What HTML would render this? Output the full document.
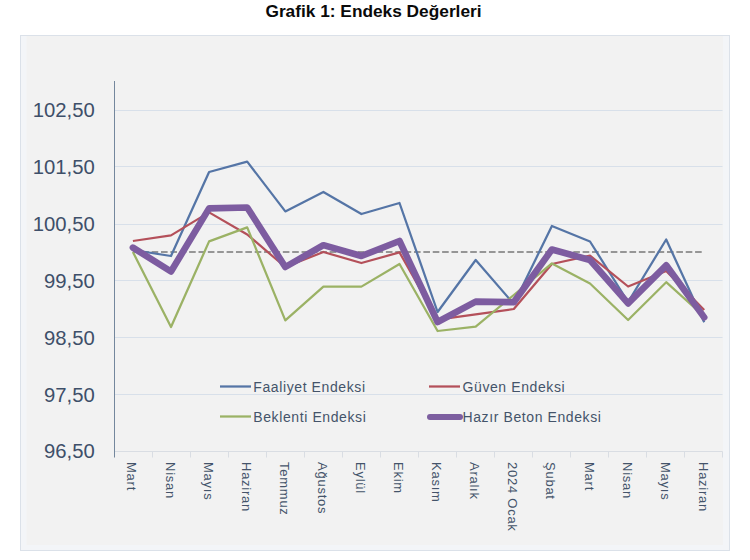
<!DOCTYPE html>
<html><head><meta charset="utf-8"><style>
html,body{margin:0;padding:0;background:#fff;width:750px;height:560px;overflow:hidden}
svg{display:block}
text{font-family:"Liberation Sans",sans-serif}
.tt{font-size:17.3px;font-weight:bold;fill:#0a0a0a}
.yl{font-size:20.3px;fill:#3e4f69}
.xl{font-size:13px;fill:#44546a;letter-spacing:0.75px}
.lg{font-size:14px;fill:#44546a;letter-spacing:0.6px}
</style></head><body>
<svg width="750" height="560" viewBox="0 0 750 560">
<rect x="20.5" y="35.5" width="709" height="515" fill="#f2f2f2" stroke="#dbe1e9" stroke-width="1"/>
<rect x="21" y="36" width="5.5" height="514" fill="#f3f5f8"/>
<rect x="723" y="36" width="6" height="514" fill="#f3f5f8"/>
<rect x="21" y="545" width="708" height="5" fill="#f3f5f8"/>
<line x1="114" y1="110.5" x2="722.5" y2="110.5" stroke="#d8e0ea" stroke-width="1"/>
<line x1="114" y1="166.5" x2="722.5" y2="166.5" stroke="#d8e0ea" stroke-width="1"/>
<line x1="114" y1="224.5" x2="722.5" y2="224.5" stroke="#d8e0ea" stroke-width="1"/>
<line x1="114" y1="280.5" x2="722.5" y2="280.5" stroke="#d8e0ea" stroke-width="1"/>
<line x1="114" y1="337.5" x2="722.5" y2="337.5" stroke="#d8e0ea" stroke-width="1"/>
<line x1="114" y1="394.5" x2="722.5" y2="394.5" stroke="#d8e0ea" stroke-width="1"/>
<line x1="114" y1="451.5" x2="722.5" y2="451.5" stroke="#d9dde3" stroke-width="1"/>
<line x1="152.5" y1="451.5" x2="152.5" y2="457.5" stroke="#d9dde3" stroke-width="1"/>
<line x1="190.5" y1="451.5" x2="190.5" y2="457.5" stroke="#d9dde3" stroke-width="1"/>
<line x1="228.5" y1="451.5" x2="228.5" y2="457.5" stroke="#d9dde3" stroke-width="1"/>
<line x1="266.5" y1="451.5" x2="266.5" y2="457.5" stroke="#d9dde3" stroke-width="1"/>
<line x1="304.5" y1="451.5" x2="304.5" y2="457.5" stroke="#d9dde3" stroke-width="1"/>
<line x1="342.5" y1="451.5" x2="342.5" y2="457.5" stroke="#d9dde3" stroke-width="1"/>
<line x1="380.5" y1="451.5" x2="380.5" y2="457.5" stroke="#d9dde3" stroke-width="1"/>
<line x1="418.5" y1="451.5" x2="418.5" y2="457.5" stroke="#d9dde3" stroke-width="1"/>
<line x1="456.5" y1="451.5" x2="456.5" y2="457.5" stroke="#d9dde3" stroke-width="1"/>
<line x1="494.5" y1="451.5" x2="494.5" y2="457.5" stroke="#d9dde3" stroke-width="1"/>
<line x1="532.5" y1="451.5" x2="532.5" y2="457.5" stroke="#d9dde3" stroke-width="1"/>
<line x1="570.5" y1="451.5" x2="570.5" y2="457.5" stroke="#d9dde3" stroke-width="1"/>
<line x1="608.5" y1="451.5" x2="608.5" y2="457.5" stroke="#d9dde3" stroke-width="1"/>
<line x1="646.5" y1="451.5" x2="646.5" y2="457.5" stroke="#d9dde3" stroke-width="1"/>
<line x1="684.5" y1="451.5" x2="684.5" y2="457.5" stroke="#d9dde3" stroke-width="1"/>
<line x1="722.5" y1="451.5" x2="722.5" y2="457.5" stroke="#d9dde3" stroke-width="1"/>
<line x1="114.5" y1="81" x2="114.5" y2="457.5" stroke="#74879d" stroke-width="1"/>
<text x="94.8" y="117.4" text-anchor="end" class="yl">102,50</text>
<text x="94.8" y="174.2" text-anchor="end" class="yl">101,50</text>
<text x="94.8" y="231.1" text-anchor="end" class="yl">100,50</text>
<text x="94.8" y="287.9" text-anchor="end" class="yl">99,50</text>
<text x="94.8" y="344.7" text-anchor="end" class="yl">98,50</text>
<text x="94.8" y="401.5" text-anchor="end" class="yl">97,50</text>
<text x="94.8" y="458.4" text-anchor="end" class="yl">96,50</text>
<text transform="translate(127.4,462) rotate(90)" class="xl">Mart</text>
<text transform="translate(165.5,462) rotate(90)" class="xl">Nisan</text>
<text transform="translate(203.6,462) rotate(90)" class="xl">Mayıs</text>
<text transform="translate(241.7,462) rotate(90)" class="xl">Haziran</text>
<text transform="translate(279.8,462) rotate(90)" class="xl">Temmuz</text>
<text transform="translate(317.9,462) rotate(90)" class="xl">Ağustos</text>
<text transform="translate(355.9,462) rotate(90)" class="xl">Eylül</text>
<text transform="translate(394.0,462) rotate(90)" class="xl">Ekim</text>
<text transform="translate(432.1,462) rotate(90)" class="xl">Kasım</text>
<text transform="translate(470.2,462) rotate(90)" class="xl">Aralık</text>
<text transform="translate(508.3,462) rotate(90)" class="xl">2024 Ocak</text>
<text transform="translate(546.4,462) rotate(90)" class="xl">Şubat</text>
<text transform="translate(584.5,462) rotate(90)" class="xl">Mart</text>
<text transform="translate(622.6,462) rotate(90)" class="xl">Nisan</text>
<text transform="translate(660.7,462) rotate(90)" class="xl">Mayıs</text>
<text transform="translate(698.8,462) rotate(90)" class="xl">Haziran</text>
<line x1="132.9" y1="252.1" x2="704.2" y2="252.1" stroke="#969696" stroke-width="2" stroke-dasharray="6.6,2.77"/>
<polyline points="132.9,250.0 171.0,256.0 209.1,172.0 247.2,161.6 285.3,211.4 323.4,192.0 361.4,214.0 399.5,203.0 437.6,312.0 475.7,260.0 513.8,304.0 551.9,226.0 590.0,241.5 628.1,302.0 666.2,239.5 704.2,322.3" fill="none" stroke="#5575a6" stroke-width="2.25" stroke-linejoin="round"/>
<polyline points="132.9,241.0 171.0,235.4 209.1,212.4 247.2,234.5 285.3,267.0 323.4,252.0 361.4,263.0 399.5,252.4 437.6,319.6 475.7,314.4 513.8,309.0 551.9,264.0 590.0,255.6 628.1,286.5 666.2,271.0 704.2,310.0" fill="none" stroke="#b4505a" stroke-width="2.25" stroke-linejoin="round"/>
<polyline points="132.9,252.0 171.0,327.0 209.1,241.4 247.2,227.4 285.3,320.4 323.4,286.6 361.4,286.6 399.5,264.0 437.6,331.0 475.7,326.6 513.8,295.0 551.9,263.4 590.0,283.5 628.1,320.0 666.2,282.2 704.2,316.5" fill="none" stroke="#9bb265" stroke-width="2.25" stroke-linejoin="round"/>
<polyline points="132.9,247.6 171.0,271.5 209.1,208.4 247.2,207.5 285.3,267.0 323.4,245.2 361.4,256.0 399.5,241.0 437.6,322.0 475.7,301.6 513.8,302.2 551.9,249.5 590.0,260.0 628.1,303.4 666.2,265.3 704.2,317.4" fill="none" stroke="#7d5ca0" stroke-width="6.6" stroke-linejoin="round" stroke-linecap="round"/>
<line x1="220" y1="386.5" x2="251" y2="386.5" stroke="#5575a6" stroke-width="2.25"/>
<text x="253.3" y="392" class="lg">Faaliyet Endeksi</text>
<line x1="429" y1="386.5" x2="460" y2="386.5" stroke="#b4505a" stroke-width="2.25"/>
<text x="462.5" y="392" class="lg">Güven Endeksi</text>
<line x1="220" y1="416.5" x2="251" y2="416.5" stroke="#9bb265" stroke-width="2.25"/>
<text x="253.3" y="422" class="lg">Beklenti Endeksi</text>
<line x1="430" y1="417" x2="460" y2="417" stroke="#7d5fa0" stroke-width="6" stroke-linecap="round"/>
<text x="462.5" y="422" class="lg">Hazır Beton Endeksi</text>
<text x="373.5" y="17.4" text-anchor="middle" class="tt">Grafik 1: Endeks Değerleri</text>
</svg>
</body></html>
